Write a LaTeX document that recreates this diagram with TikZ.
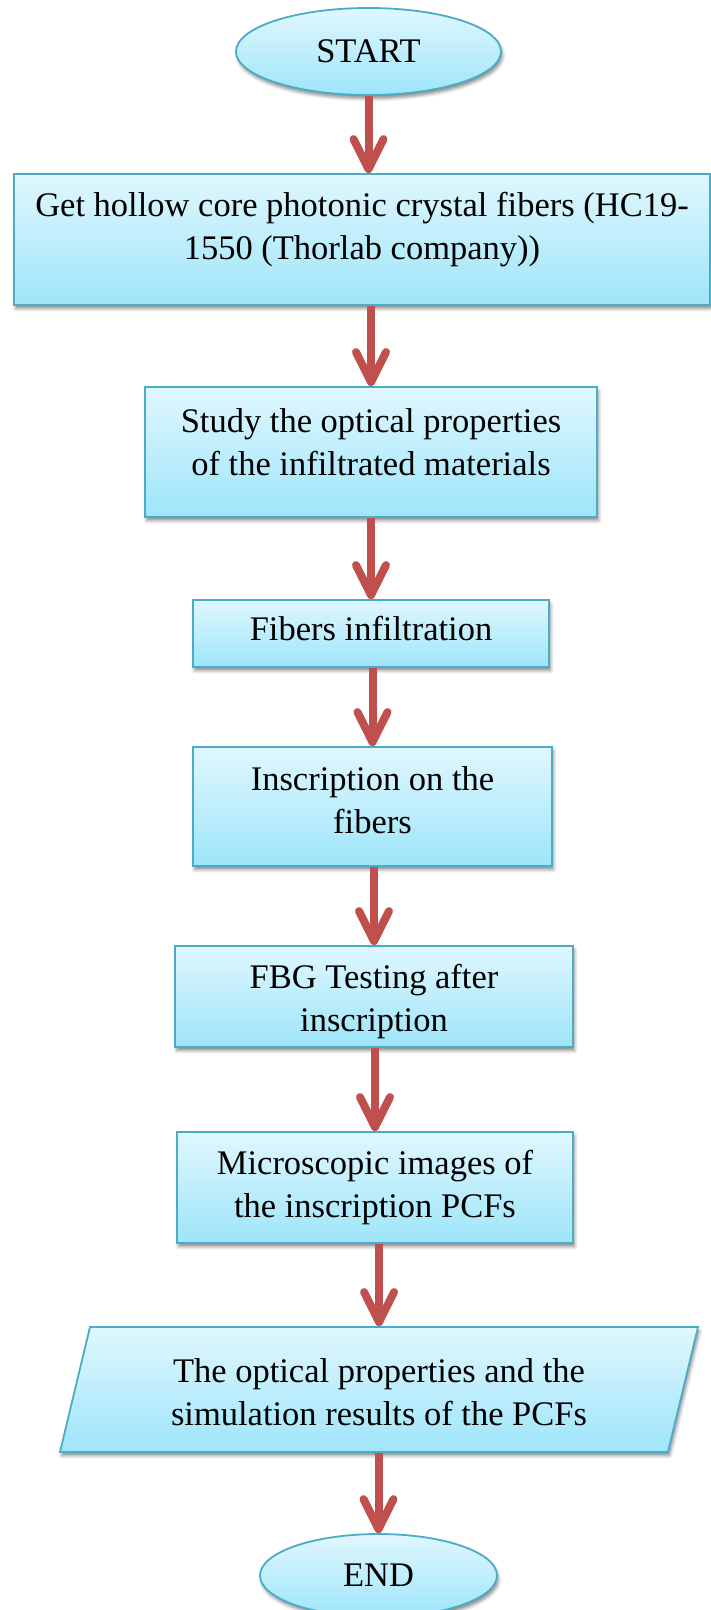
\documentclass[tikz,border=0pt]{standalone}
\usepackage{fontspec}
\setmainfont{Liberation Serif}
\usetikzlibrary{shapes.geometric,arrows.meta,shadows.blur}
\definecolor{boxline}{RGB}{75,172,198}
\definecolor{boxtop}{RGB}{224,247,254}
\definecolor{boxbottom}{RGB}{158,229,250}
\definecolor{arrowred}{RGB}{192,80,77}
\begin{document}
\begin{tikzpicture}
[x=0.5pt,y=-0.5pt,%
 shapestyle/.style={draw=boxline,line width=0.9pt,top color=boxtop,bottom color=boxbottom,%
   blur shadow={shadow xshift=0.8pt,shadow yshift=-1.8pt,shadow blur radius=1.6pt,shadow opacity=45},%
   font=\fontsize{17.25}{21.5}\selectfont,inner sep=0pt},%
 termstyle/.style={shapestyle,ellipse},%
 boxstyle/.style={shapestyle,rectangle,align=flush center},%
 iostyle/.style={shapestyle,trapezium,trapezium left angle=76.5,trapezium right angle=103.5,align=flush center},%
 flowstyle/.style={line width=4pt,draw=arrowred,-{Straight Barb[length=15pt,width=15pt,round]}}]
%% page frame
\useasboundingbox (0,0) rectangle (711,1610);
%% terminals, steps and output
\node[termstyle,minimum width=132.5pt,minimum height=43.5pt] (start) at (368.5,51.5) {START};
\node[boxstyle,text width=348pt,text height=21.5pt,text depth=44pt] (get) at (362,239.5)
  {Get hollow core photonic crystal fibers (HC19-\\1550 (Thorlab company))};
\node[boxstyle,text width=226pt,text height=22.5pt,text depth=42.5pt] (study) at (371,452)
  {Study the optical properties\\of the infiltrated materials};
\node[boxstyle,text width=178pt,text height=20pt,text depth=13.5pt] (infil) at (371,633.5)
  {Fibers infiltration};
\node[boxstyle,text width=179.5pt,text height=21.5pt,text depth=38pt] (inscr) at (372.5,806.5)
  {Inscription on the\\fibers};
\node[boxstyle,text width=199pt,text height=21pt,text depth=29.5pt] (test) at (374,996.5)
  {FBG Testing after\\inscription};
\node[boxstyle,text width=198pt,text height=21pt,text depth=34.5pt] (micro) at (375,1187.5)
  {Microscopic images of\\the inscription PCFs};
\node[iostyle,text width=289pt,text height=27.5pt,text depth=35pt] (result) at (379,1389.5)
  {The optical properties and the\\simulation results of the PCFs};
\node[termstyle,minimum width=118.5pt,minimum height=41.5pt] (stop) at (378.5,1575.5) {END};
%% arrows
\draw[flowstyle] (start.south) -- (start.south |- get.north);
\foreach \a/\b in {get/study,study/infil,infil/inscr,inscr/test,test/micro,micro/result,result/stop}
  \draw[flowstyle] (\a.south -| \b.north) -- (\b.north);
\end{tikzpicture}
\end{document}
